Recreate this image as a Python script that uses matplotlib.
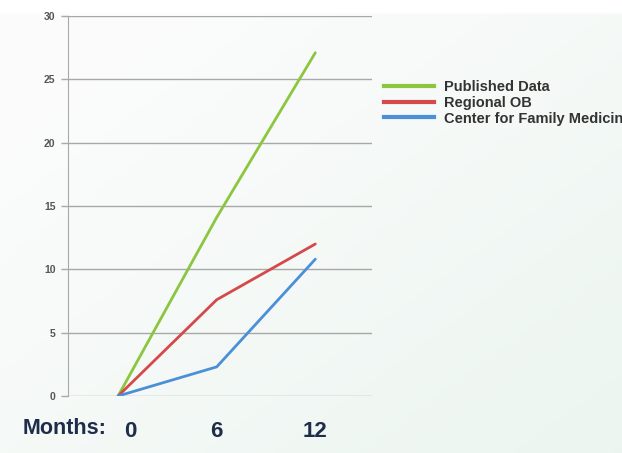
import numpy as np
import matplotlib.pyplot as plt
from matplotlib.lines import Line2D
from matplotlib.transforms import ScaledTranslation

months = [0, 6, 12]
published = [0, 14.1, 27.1]
regional_ob = [0, 7.6, 12.0]
family_med = [0, 2.3, 10.8]
series_names = ['Published Data', 'Regional OB', 'Center for Family Medicine']
series_colors = ['#8cc63f', '#d5494c', '#4a8fd8']
y_ticks = [0, 5, 10, 15, 20, 25, 30]

plt.rcParams['font.family'] = ['Liberation Sans', 'DejaVu Sans']

fig = plt.figure(figsize=(6.22, 4.53), dpi=100)

# soft slide background: white top strip, faint green toward the bottom right
bg = fig.add_axes([0, 0, 1, 1], zorder=-10)
bg.set_axis_off()
yy, xx = np.mgrid[0:1:200j, 0:1:200j]
t = np.clip(0.6 * xx + 0.6 * yy - 0.2, 0, 1)
c0 = np.array([0.985, 0.988, 0.988])
c1 = np.array([0.925, 0.962, 0.940])
img = c0 + (c1 - c0) * t[..., None]
img[:6] = 1.0
bg.imshow(img, aspect='auto', extent=[0, 1, 0, 1], origin='upper')
bg.set_xlim(0, 1)
bg.set_ylim(0, 1)

ax = fig.add_axes([68 / 622, 1 - 396 / 453, 304 / 622, 380 / 453])
ax.patch.set_alpha(0)

for vals, name, col in zip([published, regional_ob, family_med], series_names, series_colors):
	ax.plot(months, vals, color=col, lw=2, label=name, solid_capstyle='round', zorder=3)

ax.set_xlim(-3.05, 15.45)
ax.set_ylim(0, 30)
ax.set_yticks(y_ticks)
ax.yaxis.grid(True, color='#a8a8a8', lw=1)
ax.set_axisbelow(True)
for s in ['top', 'right', 'bottom']:
	ax.spines[s].set_visible(False)
ax.spines['left'].set_color('#a8a8a8')
ax.tick_params(axis='y', length=5, width=1, color='#a8a8a8', pad=4,
			   labelsize=7.5, labelcolor='#555555')
for lab in ax.get_yticklabels():
	lab.set_fontweight('bold')

ax.set_xticks(months)
ax.set_xticklabels([str(m) for m in months])
ax.tick_params(axis='x', length=0, pad=18, labelsize=16, labelcolor='#1e2d4a')
for lab in ax.get_xticklabels():
	lab.set_fontweight('bold')
# the "0" sits a little right of its point on the slide
xl0 = ax.get_xticklabels()[0]
xl0.set_transform(xl0.get_transform() + ScaledTranslation(12 / 100, 0, fig.dpi_scale_trans))

fig.text(23 / 622, 1 - 429 / 453, 'Months:', fontsize=15.5, fontweight='bold',
		 color='#1e2d4a', va='center', ha='left')

# legend runs off the right edge, as on the original slide
handles = [Line2D([], [], color=c, lw=3) for c in series_colors]
fig.legend(handles, series_names, loc='upper left', bbox_to_anchor=(384 / 622, 1 - 80 / 453),
		   frameon=False, handlelength=3.4, handletextpad=0.7,
		   labelspacing=0.12, borderpad=0, borderaxespad=0,
		   prop={'weight': 'bold', 'size': 10.5})
for txt in fig.legends[0].get_texts():
	txt.set_color('#333333')

fig.savefig('out.png', dpi=100)
